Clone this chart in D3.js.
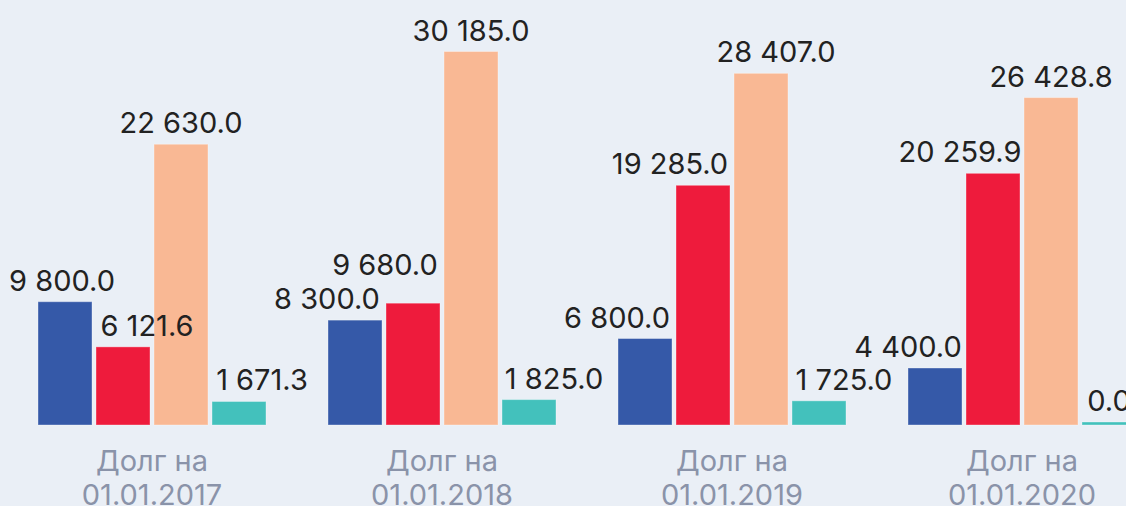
<!DOCTYPE html>
<html>
<head>
<meta charset="utf-8">
<script src="https://cdn.jsdelivr.net/npm/d3@7"></script>
<style>
  html, body { margin: 0; padding: 0; background: #eaeff6; overflow: hidden; }
  svg { display: block; }
</style>
</head>
<body>
<div id="chart"></div>
<script>
// Données
const categories = ["Долг на|01.01.2017", "Долг на|01.01.2018", "Долг на|01.01.2019", "Долг на|01.01.2020"];
const serie1 = [9800.0, 8300.0, 6800.0, 4400.0];
const serie2 = [6121.6, 9680.0, 19285.0, 20259.9];
const serie3 = [22630.0, 30185.0, 28407.0, 26428.8];
const serie4 = [1671.3, 1825.0, 1725.0, 0.0];
const series = [serie1, serie2, serie3, serie4];

const couleurs = ["#3559a8", "#ee1b3c", "#f9b894", "#43c1bc"];

// décalages des étiquettes (évite les chevauchements)
const decalX = [[-3, -28, -28, -27], [24, -28, -33, -33], [0, 0, 15, 0], [23, 25, 25, 0]];
const decalY = [[0, 0, 0, 0], [0, -17, 0, 0], [0, 0, 0, 0], [0, 0, 0, 0]];

const width = 1126, height = 506;
const baseY = 425;   // bas des barres
const minBar = 3;    // hauteur minimale (barre à 0)

const svg = d3.select("#chart").append("svg")
    .attr("width", width)
    .attr("height", height);

const x = d3.scaleBand()
    .domain(d3.range(categories.length))
    .range([7, 1167])
    .paddingInner(62 / 290)
    .paddingOuter(31 / 290);

const xSerie = d3.scaleBand()
    .domain(d3.range(series.length))
    .range([0, x.bandwidth()])
    .paddingInner(4 / 58);

const y = d3.scaleLinear()
    .domain([0, 30185])
    .range([baseY - minBar, 51.5]);

const fmt = v => d3.format(",.1f")(v).replace(/,/g, " ");

const groupes = svg.selectAll("g.groupe")
    .data(categories)
    .enter()
    .append("g")
    .attr("class", "groupe")
    .attr("transform", (d, i) => "translate(" + x(i) + ",0)");

groupes.each(function(c, gi) {
    const g = d3.select(this);
    const vals = series.map((s, si) => ({ si: si, v: s[gi] }));

    g.selectAll("rect")
        .data(vals)
        .enter()
        .append("rect")
        .attr("x", d => xSerie(d.si))
        .attr("y", d => y(d.v))
        .attr("width", xSerie.bandwidth())
        .attr("height", d => baseY - y(d.v))
        .attr("fill", d => couleurs[d.si])
        .attr("stroke", "rgba(255,255,255,0.35)")
        .attr("stroke-width", 1);

    g.selectAll("text.valeur")
        .data(vals)
        .enter()
        .append("text")
        .attr("class", "valeur")
        .attr("x", d => xSerie(d.si) + xSerie.bandwidth() / 2 + decalX[d.si][gi])
        .attr("y", d => y(d.v) - 11 + decalY[d.si][gi])
        .attr("text-anchor", "middle")
        .attr("font-family", "Inter, Roboto, sans-serif")
        .attr("font-size", "29px")
        .attr("fill", "#222")
        .text(d => fmt(d.v));

    const lignes = c.split("|");
    g.selectAll("text.cat")
        .data(lignes)
        .enter()
        .append("text")
        .attr("class", "cat")
        .attr("x", x.bandwidth() / 2)
        .attr("y", (d, i) => 471 + i * 34)
        .attr("text-anchor", "middle")
        .attr("font-family", "Inter, Roboto, sans-serif")
        .attr("font-size", "29px")
        .attr("fill", "#8a93a9")
        .text(d => d);
});
</script>
</body>
</html>
